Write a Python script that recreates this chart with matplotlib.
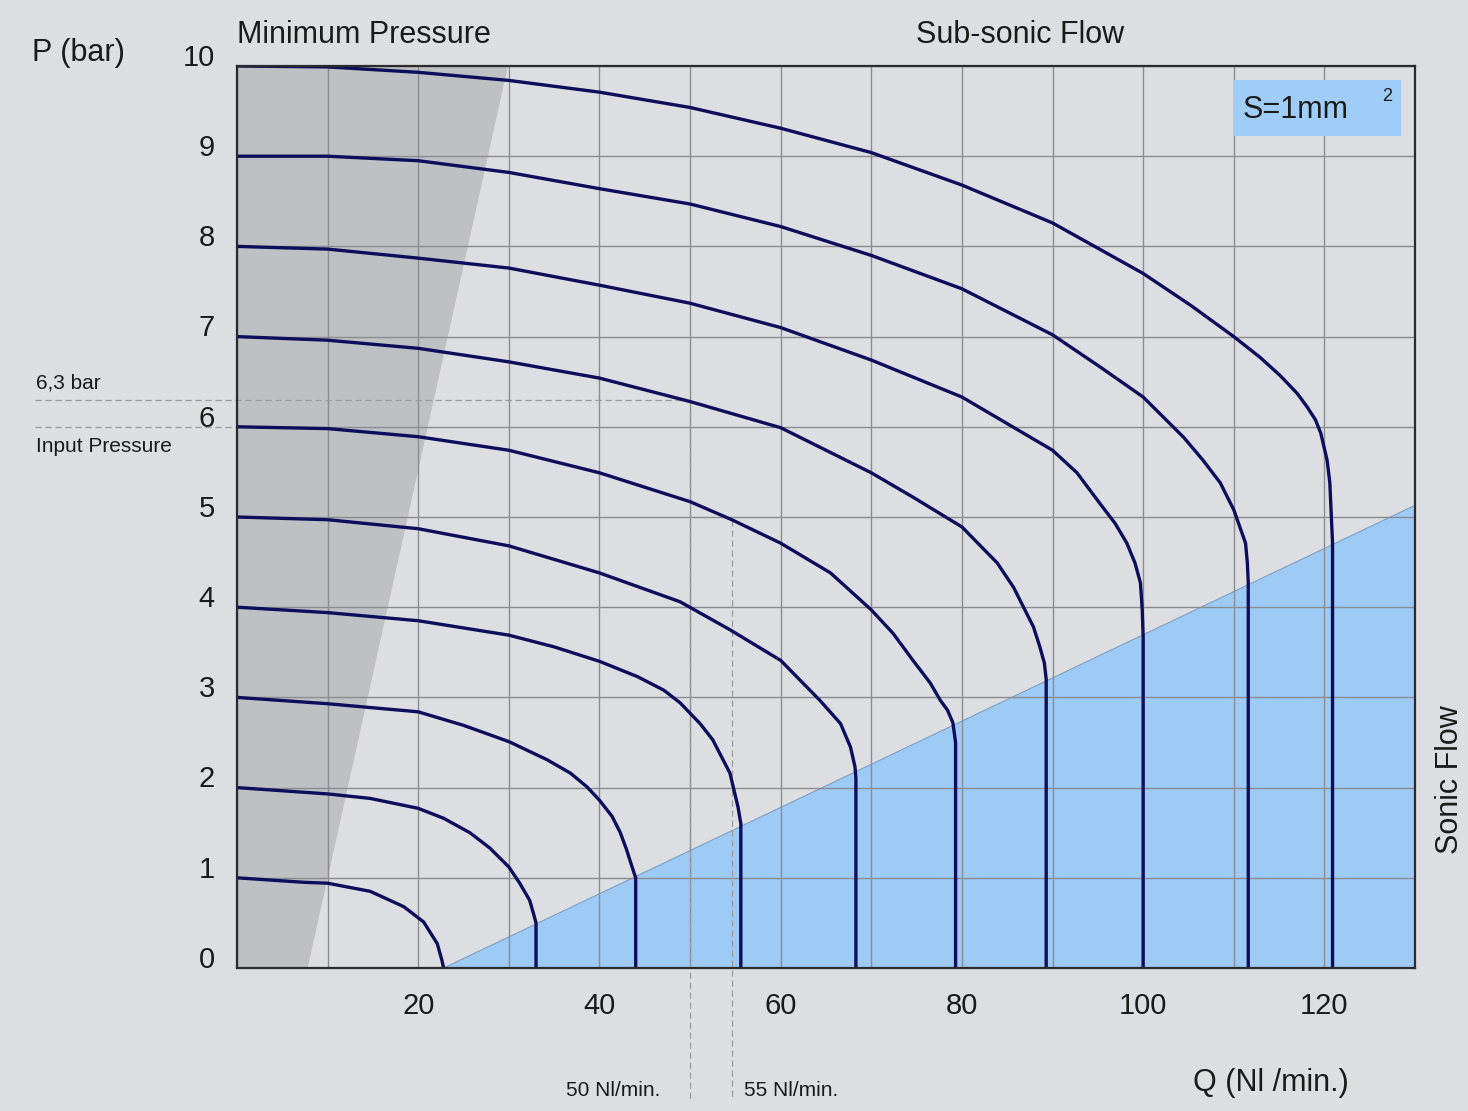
import numpy as np
import matplotlib
matplotlib.use("Agg")
import matplotlib.pyplot as plt
from matplotlib.transforms import ScaledTranslation
from matplotlib.patches import Rectangle

plt.rcParams['font.family'] = ['Liberation Sans', 'DejaVu Sans']

# flow curves, one per input pressure (Q in Nl/min, P in bar)
q_1bar = [0, 7.4, 10, 14.7, 18.4, 20.6, 22.1, 22.6, 22.8]
p_1bar = [1.0, 0.95, 0.94, 0.85, 0.68, 0.51, 0.27, 0.09, 0.0]

q_2bar = [0, 10, 14.7, 20, 22.8, 25.7, 27.9, 30, 31.2, 32.3, 32.7, 33.0, 33.0]
p_2bar = [2.0, 1.93, 1.88, 1.77, 1.66, 1.50, 1.33, 1.12, 0.94, 0.75, 0.61, 0.5, 0.0]

q_3bar = [0, 10, 20, 25.0, 30, 34.2, 36.8, 38.6, 40, 41.4, 42.3, 43.0, 43.6, 44.0, 44.0]
p_3bar = [3.0, 2.93, 2.84, 2.69, 2.51, 2.31, 2.16, 2.01, 1.86, 1.68, 1.50, 1.31, 1.12, 1.0, 0.0]

q_4bar = [0, 10, 20, 30, 35.0, 40, 44.2, 47.1, 48.9, 51.1, 52.5, 54.4, 55.3, 55.6, 55.6]
p_4bar = [4.0, 3.94, 3.85, 3.69, 3.56, 3.40, 3.23, 3.08, 2.94, 2.71, 2.53, 2.16, 1.78, 1.6, 0.0]

q_5bar = [0, 10, 20, 30, 40, 48.9, 54.4, 60, 64.3, 66.6, 67.7, 68.2, 68.3, 68.3]
p_5bar = [5.0, 4.97, 4.87, 4.68, 4.38, 4.06, 3.75, 3.41, 2.97, 2.71, 2.45, 2.23, 2.1, 0.0]

q_6bar = [0, 10, 20, 30, 40, 50, 54.6, 60, 65.5, 70, 72.4, 74.6, 76.5, 77.6, 78.4, 79.0, 79.3, 79.3]
p_6bar = [6.0, 5.98, 5.89, 5.74, 5.49, 5.17, 4.97, 4.71, 4.38, 3.97, 3.71, 3.41, 3.16, 2.97, 2.86, 2.72, 2.5, 0.0]

q_7bar = [0, 10, 20, 30, 40, 50, 60, 70, 74.6, 80, 83.9, 85.7, 86.8, 87.9, 88.6, 89.1, 89.3, 89.3]
p_7bar = [7.0, 6.96, 6.87, 6.72, 6.54, 6.28, 5.99, 5.49, 5.22, 4.89, 4.49, 4.22, 4.0, 3.78, 3.56, 3.38, 3.2, 0.0]

q_8bar = [0, 10, 20, 30, 40, 50, 60, 70, 80, 90, 92.7, 95.3, 96.9, 98.2, 99.1, 99.7, 99.9, 100, 100]
p_8bar = [8.0, 7.97, 7.87, 7.76, 7.57, 7.37, 7.10, 6.74, 6.33, 5.74, 5.49, 5.14, 4.93, 4.71, 4.49, 4.27, 3.97, 3.67, 0.0]

q_9bar = [0, 10, 20, 30, 40, 50, 60, 70, 80, 90, 95.3, 100, 104.5, 106.6, 108.5, 110, 111.3, 111.5, 111.6, 111.6]
p_9bar = [9.0, 9.0, 8.95, 8.82, 8.64, 8.47, 8.22, 7.90, 7.53, 7.02, 6.66, 6.33, 5.88, 5.63, 5.38, 5.08, 4.71, 4.49, 4.27, 0.0]

q_10bar = [0, 10, 20, 30, 40, 50, 60, 70, 80, 90, 100, 105.2, 110, 112.9, 115.1, 117.0, 118.1, 119.0, 119.6, 120.3, 120.6, 120.9, 120.9]
p_10bar = [10.0, 9.99, 9.93, 9.84, 9.71, 9.54, 9.31, 9.04, 8.68, 8.26, 7.70, 7.35, 7.00, 6.77, 6.57, 6.37, 6.22, 6.08, 5.93, 5.63, 5.38, 4.71, 0.0]

# shaded zones
min_pressure_q = [0, 7.8, 29.9, 0]
min_pressure_p = [0, 0, 10, 10]
sonic_q = [22.8, 130, 130]
sonic_p = [0, 5.13, 0]

x_ticks = [20, 40, 60, 80, 100, 120]
y_ticks = list(range(0, 11))

curves = [(q_1bar, p_1bar), (q_2bar, p_2bar), (q_3bar, p_3bar), (q_4bar, p_4bar),
          (q_5bar, p_5bar), (q_6bar, p_6bar), (q_7bar, p_7bar), (q_8bar, p_8bar),
          (q_9bar, p_9bar), (q_10bar, p_10bar)]

W, H = 1468, 1111
BG = '#dcdee1'
TXT = '#1a1a1a'


def px(x, y):
    return x / W, 1 - y / H


fig = plt.figure(figsize=(W / 100, H / 100), dpi=100, facecolor=BG)
ax = fig.add_axes([237 / W, 1 - 968 / H, (1415 - 237) / W, (968 - 66) / H])
ax.set_facecolor(BG)

ax.fill(min_pressure_q, min_pressure_p, color='#bec1c4', lw=0, zorder=1)
ax.fill(sonic_q, sonic_p, facecolor='#9ecbf5', edgecolor='#7f9fc4', lw=0.8, zorder=1)

for q, p in curves:
    ax.plot(q, p, color='#0d0d5c', lw=2.4, solid_joinstyle='round', zorder=4)

ax.set_xlim(0, 130)
ax.set_ylim(0, 10)
ax.set_xticks(np.arange(0, 131, 10), minor=True)
ax.set_xticks(x_ticks)
ax.set_yticks(y_ticks)
ax.grid(True, which='both', color='#8a8c8f', lw=1.0, zorder=2)
ax.set_axisbelow(False)
ax.tick_params(which='both', length=0, labelsize=21, colors=TXT)
ax.tick_params(axis='x', pad=17)
ax.tick_params(axis='y', pad=16)
for lab in ax.get_yticklabels():
    lab.set_transform(lab.get_transform() + ScaledTranslation(0, 8 / 72, fig.dpi_scale_trans))
for sp in ax.spines.values():
    sp.set_color('#2b2b2b')
    sp.set_linewidth(1.6)
    sp.set_zorder(5)

# dashed guide lines
dash = dict(color='#9a9a9a', lw=0.9, ls=(0, (5, 3)), clip_on=False, zorder=3)
ax.plot([-22.3, 49.3], [6.3, 6.3], **dash)
ax.plot([-22.3, 0], [6.0, 6.0], **dash)
ax.plot([50, 50], [6.28, -1.46], **dash)
ax.plot([54.6, 54.6], [4.97, -1.46], **dash)

# S=1mm2 box
ax.add_patch(Rectangle((109.9, 9.22), 18.5, 0.62, facecolor='#a0cdf7', lw=0, zorder=3))
ax.text(111.0, 9.51, 'S=1mm', fontsize=22, va='center', ha='left', color=TXT, zorder=6)
ax.text(126.9, 9.66, '2', fontsize=13, va='center', ha='center', color=TXT, zorder=6)

# labels
fig.text(*px(32, 53), 'P (bar)', fontsize=22, va='center', ha='left', color=TXT)
fig.text(*px(237, 35), 'Minimum Pressure', fontsize=22, va='center', ha='left', color=TXT)
fig.text(*px(1020, 35), 'Sub-sonic Flow', fontsize=22, va='center', ha='center', color=TXT)
fig.text(*px(1450, 780), 'Sonic Flow', fontsize=22, va='center', ha='center', rotation=90, color=TXT)
fig.text(*px(36, 383), '6,3 bar', fontsize=15, va='center', ha='left', color=TXT)
fig.text(*px(36, 447), 'Input Pressure', fontsize=15, va='center', ha='left', color=TXT)
fig.text(*px(613, 1090), '50 Nl/min.', fontsize=15, va='center', ha='center', color=TXT)
fig.text(*px(791, 1090), '55 Nl/min.', fontsize=15, va='center', ha='center', color=TXT)
fig.text(*px(1271, 1083), 'Q (Nl /min.)', fontsize=22, va='center', ha='center', color=TXT)

fig.savefig('out.png', dpi=100, facecolor=BG)
